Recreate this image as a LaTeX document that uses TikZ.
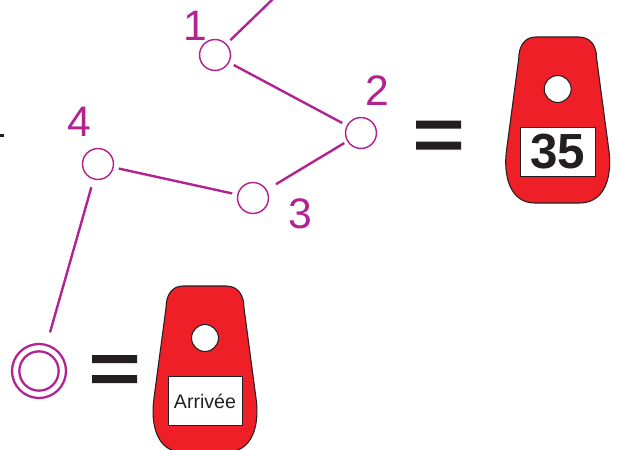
\documentclass[tikz,border=0pt]{standalone}
\usepackage{fontspec}
\setmainfont{Liberation Sans}

\definecolor{routecol}{RGB}{178,34,145}
\definecolor{tagred}{RGB}{238,31,38}
\definecolor{inkcol}{RGB}{35,31,32}

\tikzset{every picture/.style={line width=0.75pt}}
\tikzset{
  post/.style={draw=routecol,circle,inner sep=0pt,minimum size=23.2pt,line width=1.1pt},
  leg/.style={draw=routecol,line width=1.8pt,shorten <=3.8pt,shorten >=3.8pt},
  num/.style={text=routecol,font=\fontsize{32}{32}\selectfont,inner sep=0pt},
  bar/.style={fill=inkcol,draw=none},
  pics/tag/.style n args={2}{code={
    \draw[fill=tagred,draw=inkcol,line width=0.8pt] (-22,-52) -- (21,-52) .. controls (33,-52) and (39,-43) .. (39,-30) -- (51,60) .. controls (55,88) and (47,114) .. (22,114) -- (-23,114) .. controls (-47,114) and (-55,88) .. (-51,60) -- (-39,-30) .. controls (-39,-43) and (-33,-52) .. (-22,-52) -- cycle ;
    \node[draw=inkcol,fill=white,circle,inner sep=0pt,minimum size=20.2pt,line width=0.8pt] (hole) at (0,0) {};
    \node[draw=inkcol,fill=white,inner sep=0pt,minimum width=55.8pt,minimum height=36.8pt,line width=0.4pt,text=inkcol,font=#2] (plate) at (0,63) {#1};
  }}
}

\begin{document}
\begin{tikzpicture}[x=0.75pt,y=0.75pt,yscale=-1,xscale=1]
\useasboundingbox (0,0) rectangle (619,450);

%Route posts
\node[post] (n1) at (215,55) {};
\node[post] (n2) at (361,133) {};
\node[post] (n3) at (253,198) {};
\node[post] (n4) at (98,164) {};
\node[draw=routecol,circle,inner sep=0pt,minimum size=40.5pt,line width=1.7pt] (start) at (39,371) {};
\node[draw=routecol,circle,inner sep=0pt,minimum size=29.5pt,line width=1.7pt] (startin) at (39,371) {};
\coordinate (top) at (276,-4);

%Route legs
\draw[leg,shorten >=0pt] (n1) -- (top) ;
\draw[leg] (n1) -- (n2) ;
\draw[leg,shorten <=2.5pt,shorten >=8pt] (n2) -- (n3) ;
\draw[leg] (n3) -- (n4) ;
\draw[leg,shorten <=6pt,shorten >=9pt] (n4) -- (start) ;

%Numbers
\node[num] (l1) at (195,26) {1};
\node[num] (l2) at (377,91) {2};
\node[num] (l3) at (300,214) {3};
\node[num] (l4) at (79,122) {4};

%Equals signs
\path[bar] (416,120.5) rectangle (461,128.5) (416,141.5) rectangle (461,149.5) ;
\path[bar] (92,355) rectangle (137,363) (92,375) rectangle (137,383) ;
\path[bar] (0,134) rectangle (4,137) ;

%Tags
\pic[yscale=-1] (tagnum) at (557.7,89) {tag={35}{\bfseries\fontsize{37}{37}\selectfont}};
\pic[yscale=-1] (tagend) at (205,338) {tag={Arrivée}{\fontsize{14.7}{14.7}\selectfont}};

\end{tikzpicture}
\end{document}
